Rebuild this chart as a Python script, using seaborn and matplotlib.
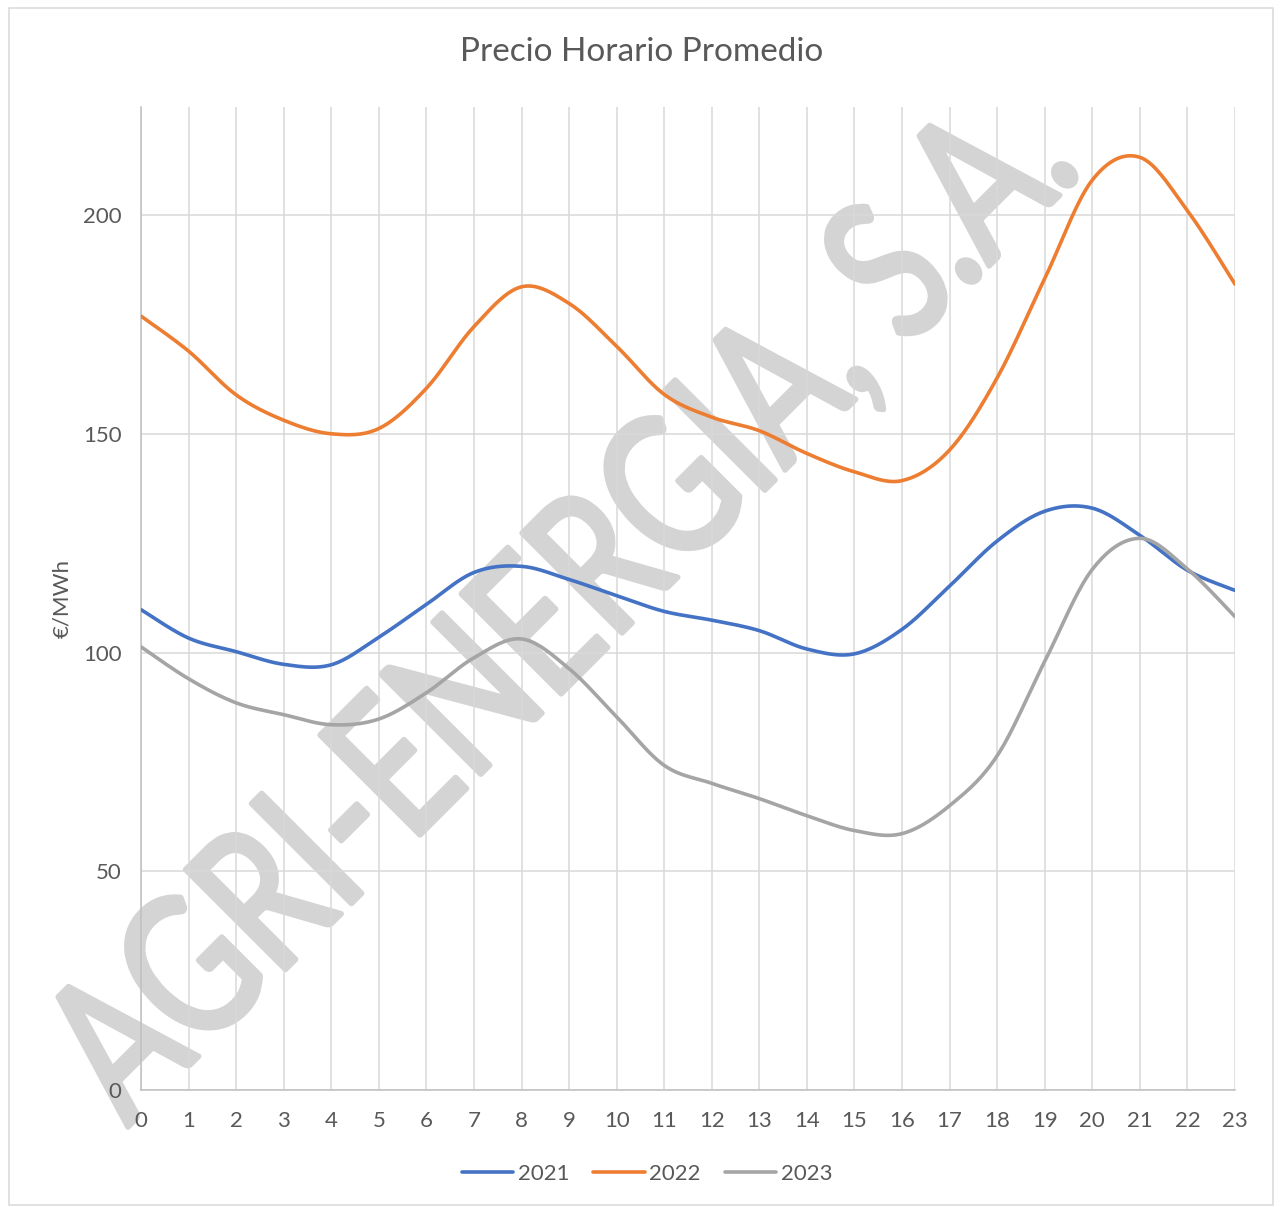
import numpy as np
import pandas as pd
import matplotlib
matplotlib.use("Agg")
import matplotlib.pyplot as plt
import matplotlib.transforms as mtransforms
from matplotlib.textpath import TextPath
from matplotlib.patches import PathPatch, Rectangle
from matplotlib.font_manager import FontProperties
import seaborn as sns

# --- data ---
hours = list(range(24))
years = ["2021", "2022", "2023"]
price_2021 = [109.8, 103.3, 100.2, 97.3, 97.2, 103.5, 111.0, 118.3, 119.7, 116.7, 113.0, 109.4,
              107.4, 105.0, 100.8, 99.7, 105.3, 115.2, 125.5, 132.3, 133.0, 126.8, 118.8, 114.2]
price_2022 = [176.9, 168.9, 158.9, 153.1, 150.0, 151.2, 160.4, 174.5, 183.6, 179.8, 170.0, 159.0,
              153.8, 150.7, 145.5, 141.3, 139.3, 146.3, 162.8, 185.5, 208.0, 213.2, 201.0, 184.2]
price_2023 = [101.3, 94.0, 88.5, 85.8, 83.5, 84.8, 90.8, 98.8, 103.1, 96.3, 85.3, 74.2,
              70.1, 66.6, 62.7, 59.3, 58.6, 65.0, 76.4, 98.0, 119.0, 126.1, 119.1, 108.2]
colors = {"2021": "#4472C4", "2022": "#ED7D31", "2023": "#A5A5A5"}
y_ticks = [0, 50, 100, 150, 200]


def excel_smooth(x, y, n=20):
    # Excel "smoothed line": cubic bezier through each point (Catmull-Rom controls)
    P = np.column_stack([x, y]).astype(float)
    Q = np.vstack([P[0], P, P[-1]])
    t = np.linspace(0, 1, n, endpoint=False)[:, None]
    out = []
    for i in range(len(P) - 1):
        p0, p1, p2, p3 = Q[i], Q[i + 1], Q[i + 2], Q[i + 3]
        c1 = p1 + (p2 - p0) / 6
        c2 = p2 - (p3 - p1) / 6
        out.append((1 - t) ** 3 * p1 + 3 * (1 - t) ** 2 * t * c1 + 3 * (1 - t) * t ** 2 * c2 + t ** 3 * p2)
    out.append(P[-1:])
    return np.vstack(out)


frames = []
for yr, vals in zip(years, [price_2021, price_2022, price_2023]):
    s = excel_smooth(hours, vals)
    frames.append(pd.DataFrame({"hour": s[:, 0], "price": s[:, 1], "year": yr}))
df = pd.concat(frames, ignore_index=True)

sns.set_style("white")
plt.rcParams["font.family"] = ["Lato", "DejaVu Sans"]
plt.rcParams["lines.solid_capstyle"] = "round"
txt = "#595959"

W, H = 1282, 1207
fig = plt.figure(figsize=(W / 100, H / 100), dpi=100)
ax = fig.add_axes([141 / W, 1 - 1090 / H, (1235 - 141) / W, (1090 - 107) / H])

sns.lineplot(data=df, x="hour", y="price", hue="year", palette=colors, sort=False,
             estimator=None, linewidth=2.6, ax=ax, zorder=3)

ax.set_xlim(0, 23)
ax.set_ylim(0, 224.7)
ax.set_xticks(hours)
ax.set_yticks(y_ticks)
ax.set_axisbelow(True)
ax.grid(True, color="#d9d9d9", linewidth=1.1)
for side in ["top", "right"]:
    ax.spines[side].set_visible(False)
for side in ["left", "bottom"]:
    ax.spines[side].set_color("#bfbfbf")
    ax.spines[side].set_linewidth(1.1)
    ax.spines[side].set_zorder(2)
ax.tick_params(axis="both", length=0, labelsize=16, labelcolor=txt)
ax.tick_params(axis="x", pad=15)
ax.tick_params(axis="y", pad=14)
ax.set_xlabel("")
ax.set_ylabel("€/MWh", fontsize=16, color=txt, labelpad=8)

fig.text(642 / W, 1 - 52 / H, "Precio Horario Promedio", ha="center", va="center",
         fontsize=24, color=txt)

handles, labels = ax.get_legend_handles_labels()
ax.get_legend().remove()
leg = fig.legend(handles, labels, loc="center", bbox_to_anchor=(647 / W, 1 - 1174 / H), ncol=3,
                 frameon=False, fontsize=16, handlelength=2.3, handletextpad=0.2,
                 columnspacing=1.1, labelcolor=txt)
for h in leg.get_lines():
    h.set_linewidth(2.6)

# watermark, drawn under the grid so the grid shows through faintly
tp = TextPath((0, 0), "AGRI-ENERGIA, S.A.", size=1, prop=FontProperties(family="Lato"))
ext = tp.get_extents()
sy = 142 / 0.72
sx = 1345 / ext.width
tr = (mtransforms.Affine2D().translate(-ext.x0, 0).scale(sx, sy)
      .rotate_deg(45).translate(128, H - 1127))
wm = PathPatch(tp, transform=tr, facecolor="#d4d4d4", edgecolor="#d4d4d4", linewidth=4,
               joinstyle="round", zorder=0.3, clip_on=False)
ax.add_patch(wm)

# outer chart border
fig.add_artist(Rectangle((9 / W, 2 / H), (1273 - 9) / W, (1199 - 2) / H, transform=fig.transFigure,
                         fill=False, edgecolor="#d9d9d9", linewidth=1.1))

fig.savefig("out.png", dpi=100)
